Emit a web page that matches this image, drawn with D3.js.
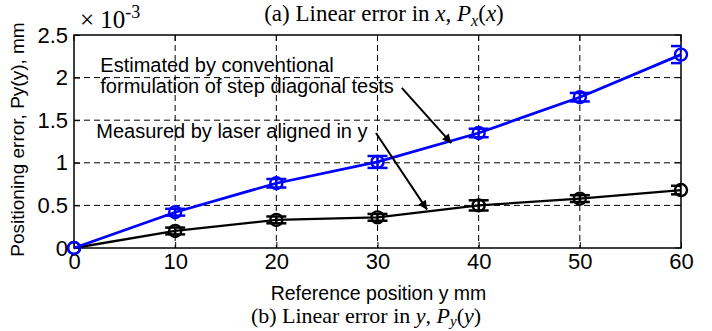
<!DOCTYPE html>
<html>
<head>
<meta charset="utf-8">
<script src="https://cdn.jsdelivr.net/npm/d3@7"></script>
<style>
  body { margin: 0; background: #fff; }
  svg { display: block; }
  text { font-family: "Liberation Sans", Arial, sans-serif; }
  .serif { font-family: "Liberation Serif", "Times New Roman", serif; }
</style>
</head>
<body>
<svg width="712" height="331"></svg>
<script>
// reference positions (mm) and errors (x 1e-3 mm)
var positions = [0, 10, 20, 30, 40, 50, 60];
var estimated = [0, 0.42, 0.76, 1.01, 1.35, 1.77, 2.27];
var estimatedErr = [0, 0.04, 0.05, 0.07, 0.05, 0.05, 0.10];
var measured = [0, 0.20, 0.33, 0.36, 0.50, 0.58, 0.68];
var measuredErr = [0, 0.04, 0.04, 0.04, 0.06, 0.04, 0.05];
var xTicks = [0, 10, 20, 30, 40, 50, 60];
var yTicks = [0, 0.5, 1, 1.5, 2, 2.5];

var svg = d3.select("svg");
var pL = 74, pR = 681, pT = 35, pB = 248;

var x = d3.scaleLinear().domain([0, 60]).range([pL, pR]);
var y = d3.scaleLinear().domain([0, 2.5]).range([pB, pT]);

// grid
var grid = svg.append("g").attr("stroke", "#000").attr("stroke-width", 1)
    .attr("stroke-dasharray", "6,4");
grid.selectAll(".gx").data(xTicks.slice(1, -1)).enter().append("line")
    .attr("x1", d => x(d)).attr("x2", d => x(d))
    .attr("y1", pT).attr("y2", pB);
grid.selectAll(".gy").data(yTicks.slice(1, -1)).enter().append("line")
    .attr("x1", pL).attr("x2", pR)
    .attr("y1", d => y(d)).attr("y2", d => y(d));

// axes
var xAxis = svg.append("g").attr("transform", "translate(0," + pB + ")")
    .call(d3.axisBottom(x).tickValues(xTicks).tickSize(-6).tickPadding(8));
var yAxis = svg.append("g").attr("transform", "translate(" + pL + ",0)")
    .call(d3.axisLeft(y).tickValues(yTicks).tickSize(-6).tickPadding(6)
        .tickFormat(d3.format("")));
[xAxis, yAxis].forEach(function(a){
    a.select(".domain").remove();
    a.selectAll("line").attr("stroke", "#000");
    a.selectAll("text").attr("font-size", "22px").attr("fill", "#000")
        .attr("font-family", "Liberation Sans, Arial, sans-serif");
});
xAxis.selectAll("text").attr("dy", "0.71em").attr("y", 5);
// top/right ticks
svg.append("g").selectAll("line").data(xTicks).enter().append("line")
    .attr("x1", d => x(d)).attr("x2", d => x(d)).attr("y1", pT).attr("y2", pT + 6)
    .attr("stroke", "#000");
svg.append("g").selectAll("line").data(yTicks).enter().append("line")
    .attr("x1", pR - 6).attr("x2", pR).attr("y1", d => y(d)).attr("y2", d => y(d))
    .attr("stroke", "#000");

svg.append("rect").attr("x", pL).attr("y", pT)
    .attr("width", pR - pL).attr("height", pB - pT)
    .attr("fill", "none").attr("stroke", "#000").attr("stroke-width", 1.5);

svg.append("clipPath").attr("id", "clip").append("rect")
    .attr("x", pL).attr("y", pT).attr("width", pR - pL).attr("height", pB - pT);

function drawSeries(vals, errs, color, lw) {
    var pts = positions.map((p, i) => ({x: p, y: vals[i], e: errs[i]}));
    var g = svg.append("g");
    var eb = g.append("g").attr("clip-path", "url(#clip)")
        .attr("stroke", color).attr("stroke-width", 2.5);
    pts.filter(d => d.e > 0).forEach(function(d){
        var cx = x(d.x);
        eb.append("line").attr("x1", cx).attr("x2", cx)
            .attr("y1", y(d.y - d.e)).attr("y2", y(d.y + d.e));
        eb.append("line").attr("x1", cx - 10).attr("x2", cx + 10)
            .attr("y1", y(d.y - d.e)).attr("y2", y(d.y - d.e));
        eb.append("line").attr("x1", cx - 10).attr("x2", cx + 10)
            .attr("y1", y(d.y + d.e)).attr("y2", y(d.y + d.e));
    });
    g.append("path").datum(pts)
        .attr("d", d3.line().x(d => x(d.x)).y(d => y(d.y)))
        .attr("fill", "none").attr("stroke", color).attr("stroke-width", lw);
    g.selectAll("circle").data(pts).enter().append("circle")
        .attr("cx", d => x(d.x)).attr("cy", d => y(d.y)).attr("r", 6)
        .attr("fill", "none").attr("stroke", color).attr("stroke-width", 2.4);
}
drawSeries(measured, measuredErr, "#000", 2.3);
drawSeries(estimated, estimatedErr, "#0000ff", 2.8);

// annotations
svg.append("defs").append("marker").attr("id", "arrow")
    .attr("viewBox", "0 0 10 10").attr("refX", 10).attr("refY", 5)
    .attr("markerWidth", 15).attr("markerHeight", 9).attr("markerUnits", "userSpaceOnUse")
    .attr("orient", "auto")
    .append("path").attr("d", "M0,0L10,5L0,10z").attr("fill", "#000");

var notes = [
    {t: "Estimated by conventional", x: 2.6, y: 2.07},
    {t: "formulation of step diagonal tests", x: 2.6, y: 1.82},
    {t: "Measured by laser aligned in y", x: 2.2, y: 1.29}
];
svg.selectAll(".note").data(notes).enter().append("text")
    .attr("x", d => x(d.x)).attr("y", d => y(d.y))
    .attr("font-size", "20px").attr("fill", "#000").text(d => d.t);

var arrows = [
    {x1: 32.4, y1: 1.88, x2: 37.3, y2: 1.23},
    {x1: 29.85, y1: 1.35, x2: 34.9, y2: 0.45}
];
svg.selectAll(".arr").data(arrows).enter().append("line")
    .attr("x1", d => x(d.x1)).attr("y1", d => y(d.y1))
    .attr("x2", d => x(d.x2)).attr("y2", d => y(d.y2))
    .attr("stroke", "#000").attr("stroke-width", 2).attr("marker-end", "url(#arrow)");

// labels
svg.append("text").attr("transform", "translate(24," + ((pT + pB) / 2 - 2) + ") rotate(-90)")
    .attr("text-anchor", "middle").attr("font-size", "19px").text("Positioning error, Py(y), mm");
svg.append("text").attr("x", (pL + pR) / 2 + 1).attr("y", 300)
    .attr("text-anchor", "middle").attr("font-size", "19.5px").text("Reference position y mm");

var mult = svg.append("text").attr("class", "serif").attr("x", 80).attr("y", 28).attr("font-size", "25px");
mult.append("tspan").text("\u00d7 10");
mult.append("tspan").attr("dy", -10).attr("font-size", "18px").text("-3");

var ta = svg.append("text").attr("class", "serif").attr("x", 384).attr("y", 21)
    .attr("text-anchor", "middle").attr("font-size", "23px");
ta.append("tspan").text("(a) Linear error in ");
ta.append("tspan").attr("font-style", "italic").text("x");
ta.append("tspan").text(", ");
ta.append("tspan").attr("font-style", "italic").text("P");
ta.append("tspan").attr("font-style", "italic").attr("font-size", "16px").attr("dy", 5).text("x");
ta.append("tspan").attr("dy", -5).text("(");
ta.append("tspan").attr("font-style", "italic").text("x");
ta.append("tspan").text(")");

var tb = svg.append("text").attr("class", "serif").attr("x", 366).attr("y", 323)
    .attr("text-anchor", "middle").attr("font-size", "22px");
tb.append("tspan").text("(b) Linear error in ");
tb.append("tspan").attr("font-style", "italic").text("y");
tb.append("tspan").text(", ");
tb.append("tspan").attr("font-style", "italic").text("P");
tb.append("tspan").attr("font-style", "italic").attr("font-size", "15px").attr("dy", 3).text("y");
tb.append("tspan").attr("dy", -3).text("(");
tb.append("tspan").attr("font-style", "italic").text("y");
tb.append("tspan").text(")");
</script>
</body>
</html>
